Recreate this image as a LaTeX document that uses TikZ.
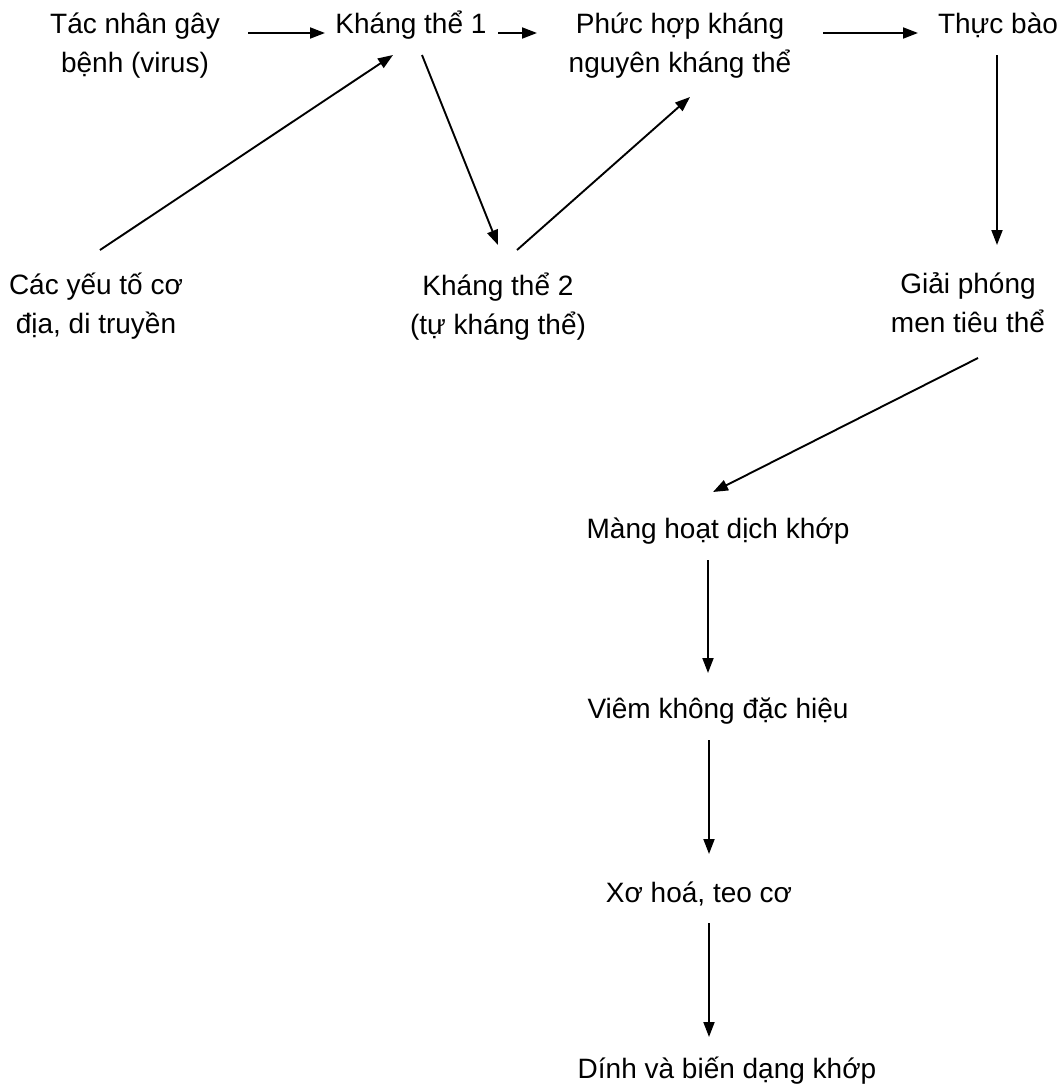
\documentclass[tikz,border=0pt]{standalone}
\usepackage{fontspec}
\setmainfont{Liberation Sans}
\usetikzlibrary{arrows.meta,calc}
\tikzset{
  lbl/.style={inner sep=0pt, anchor=base, align=center, font=\fontsize{28}{39}\selectfont},
  arr/.style={line width=1.9pt, -{Triangle[length=15pt,width=11pt]}}
}
\begin{document}
\begin{tikzpicture}[x=1pt,y=-1pt]
\useasboundingbox[fill=white] (0,0) rectangle (1061,1087);
% multi-line nodes: base anchor = baseline of the last line
\node[lbl] (tac)  at (135,72)  {Tác nhân gây\\bệnh (virus)};
\node[lbl] (kt1)  at (411,33)  {Kháng thể 1};
\node[lbl] (phuc) at (680,72)  {Phức hợp kháng\\nguyên kháng thể};
\node[lbl] (thuc) at (998,33)  {Thực bào};
\node[lbl] (cac)  at (96,333)  {Các yếu tố cơ\\địa, di truyền};
\node[lbl] (kt2)  at (498,334) {Kháng thể 2\\(tự kháng thể)};
\node[lbl] (giai) at (968,332) {Giải phóng\\men tiêu thể};
\node[lbl] (mang) at (718,538) {Màng hoạt dịch khớp};
\node[lbl] (viem) at (718,718) {Viêm không đặc hiệu};
\node[lbl] (xo)   at (699,902) {Xơ hoá, teo cơ};
\node[lbl] (dinh) at (727,1078) {Dính và biến dạng khớp};

\draw[arr] ($(tac.base)+(113,-39)$) -- ($(kt1.base)+(-86,0)$);
\draw[arr] ($(kt1.base)+(87,0)$) -- ($(phuc.base)+(-143,-39)$);
\draw[arr] ($(phuc.base)+(143,-39)$) -- ($(thuc.base)+(-80,0)$);
\draw[arr] ($(cac.base)+(4,-83)$) -- ($(kt1.base)+(-18,22)$);
\draw[arr] ($(kt1.base)+(11,22)$) -- ($(kt2.base)+(0,-89)$);
\draw[arr] ($(kt2.base)+(19,-84)$) -- ($(phuc.base)+(10,25)$);
\draw[arr] ($(thuc.base)+(-1,22)$) -- ($(giai.base)+(29,-87)$);
\draw[arr] ($(giai.base)+(10,26)$) -- ($(mang.base)+(-5,-46)$);
\draw[arr] ($(mang.base)+(-10,22)$) -- ($(viem.base)+(-10,-45)$);
\draw[arr] ($(viem.base)+(-9,22)$) -- ($(xo.base)+(10,-48)$);
\draw[arr] ($(xo.base)+(10,21)$) -- ($(dinh.base)+(-18,-41)$);
\end{tikzpicture}
\end{document}
